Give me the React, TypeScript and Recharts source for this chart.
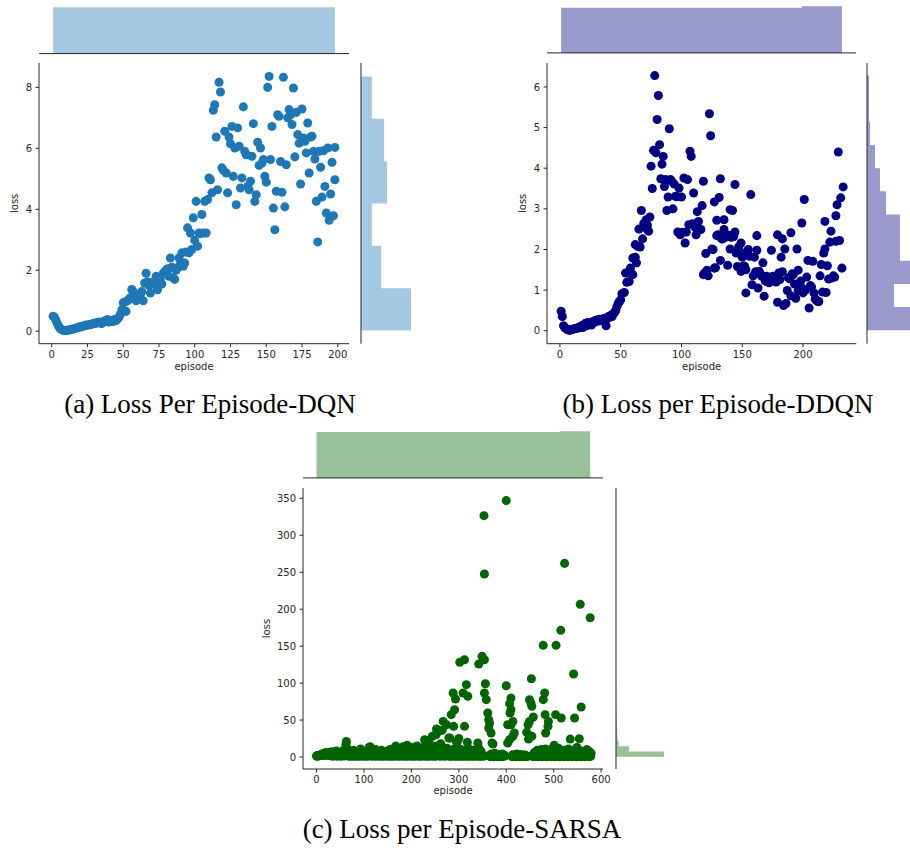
import React from 'react';
import { ScatterChart, Scatter, XAxis, YAxis, ZAxis, AreaChart, Area } from 'recharts';

type Pt = [number, number];

const INK = '#262626';
const TICK = { fontSize: 10, fill: INK, fontFamily: 'DejaVu Sans' };

// ---------- DQN ----------
const dqnEarly: Pt[] = [
  [1, 0.49], [2, 0.45], [3, 0.35], [4, 0.25], [5, 0.15], [6, 0.08], [7, 0.05], [8, 0.03], [9, 0.02], [10, 0.02],
  [11, 0.03], [12, 0.04], [13, 0.05], [14, 0.06], [15, 0.07], [16, 0.08], [17, 0.1], [18, 0.12], [19, 0.13], [20, 0.15],
  [21, 0.14], [22, 0.17], [23, 0.18], [24, 0.2], [25, 0.19], [26, 0.22], [27, 0.21], [28, 0.23], [29, 0.25], [30, 0.27],
  [31, 0.26], [32, 0.28], [33, 0.3], [34, 0.27], [35, 0.25], [36, 0.3], [37, 0.33], [38, 0.35], [39, 0.38], [40, 0.3],
  [41, 0.33], [42, 0.36], [43, 0.32], [44, 0.38], [45, 0.35], [46, 0.4], [47, 0.45], [48, 0.55], [49, 0.7], [50, 0.93],
];
const dqnRise: Pt[] = [
  [51, 0.95], [52, 0.65], [53, 1.0], [54, 1.05], [55, 1.1], [56, 1.37], [57, 1.3], [58, 1.25], [59, 1.0], [60, 1.15],
  [61, 1.1], [62, 1.2], [63, 1.3], [64, 1.0], [65, 1.58], [66, 1.9], [67, 1.62], [68, 1.5], [69, 1.25], [70, 1.6],
  [71, 1.55], [72, 1.62], [73, 1.8], [74, 1.36], [75, 1.64], [76, 1.72], [77, 1.55], [78, 1.9], [79, 1.95], [80, 2.0],
  [81, 2.05], [82, 1.8], [83, 2.4], [84, 2.1], [85, 1.75], [86, 1.7], [87, 2.0], [88, 2.08], [89, 2.4], [90, 2.2],
  [91, 2.57], [92, 2.13], [93, 2.24], [94, 2.6], [95, 3.39], [96, 2.57], [97, 3.22], [98, 2.68], [99, 3.72], [100, 2.98],
  [101, 4.26], [102, 2.79], [103, 3.22], [104, 3.2], [105, 3.83], [106, 3.22], [107, 4.26], [108, 3.22], [109, 4.32], [110, 5.03],
  [111, 4.97], [112, 4.54],
];
const dqnPlateau: Pt[] = [
  [113, 7.25], [114, 7.43], [115, 6.37], [116, 4.64], [117, 8.17], [118, 7.85], [119, 5.36], [120, 5.28], [121, 6.56], [122, 5.19],
  [123, 4.54], [124, 6.37], [125, 6.15], [126, 6.72], [127, 5.08], [128, 6.01], [129, 4.15], [130, 6.67], [131, 6.07], [132, 4.7],
  [133, 5.03], [134, 7.36], [135, 5.9], [136, 5.79], [137, 4.75], [138, 4.64], [139, 4.92], [140, 5.74], [141, 6.81], [142, 4.26],
  [143, 4.48], [144, 6.2], [145, 5.44], [146, 6.01], [147, 5.52], [148, 5.63], [149, 5.08], [150, 4.89], [151, 8.0], [152, 8.36],
  [153, 5.63], [154, 6.72], [155, 4.04], [156, 3.33], [157, 4.59], [158, 7.1], [159, 7.05], [160, 5.57], [161, 4.56], [162, 8.33],
  [163, 4.08], [164, 5.46], [165, 7.0], [166, 7.27], [167, 7.1], [168, 6.78], [169, 7.98], [170, 5.72], [171, 7.18], [172, 6.45],
  [173, 6.17], [174, 4.83], [175, 7.29], [176, 6.34], [177, 6.23], [178, 5.85], [179, 6.83], [180, 5.19], [181, 6.37], [182, 6.4],
  [183, 5.9], [184, 5.65], [185, 4.26], [186, 2.93], [187, 5.9], [188, 5.38], [189, 4.4], [190, 5.92], [191, 4.75], [192, 3.88],
  [193, 6.01], [194, 3.64], [195, 4.5], [196, 5.54], [197, 3.79], [198, 4.97], [198, 6.03],
];
const dqnTopEdges = [1, 33.8, 66.7, 99.5, 132.3, 165.2, 198];
const dqnTopCounts = [33, 33, 33, 33, 33, 33];
const dqnSideEdges = [0.02, 1.41, 2.8, 4.19, 5.58, 6.97, 8.36];
const dqnSideCounts = [72, 28, 15, 36, 32, 15];

// ---------- DDQN ----------
const ddqnEarly: Pt[] = [
  [1, 0.48], [2, 0.35], [3, 0.12], [4, 0.08], [5, 0.05], [6, 0.03], [7, 0.02], [8, 0.01], [9, 0.02], [10, 0.03],
  [11, 0.04], [12, 0.05], [13, 0.05], [14, 0.06], [15, 0.08], [16, 0.07], [17, 0.1], [18, 0.12], [19, 0.08], [20, 0.15],
  [21, 0.18], [22, 0.12], [23, 0.2], [24, 0.17], [25, 0.19], [26, 0.14], [27, 0.22], [28, 0.2], [29, 0.25], [30, 0.23],
  [31, 0.27], [32, 0.24], [33, 0.28], [34, 0.26], [35, 0.27], [36, 0.3], [37, 0.25], [38, 0.12], [39, 0.3], [40, 0.35],
  [41, 0.33], [42, 0.38], [43, 0.35], [44, 0.42], [45, 0.45], [46, 0.5], [47, 0.6], [48, 0.68], [49, 0.72], [50, 0.76],
];
const ddqnPeak: Pt[] = [
  [51, 0.91], [53, 0.94], [54, 1.42], [55, 1.19], [57, 1.21], [58, 1.54], [60, 1.79], [60, 1.38], [62, 2.12], [62, 1.81],
  [63, 1.67], [64, 2.08], [65, 2.5], [66, 2.06], [67, 2.96], [68, 2.26], [69, 2.64], [70, 2.55], [71, 2.73], [72, 2.49],
  [72, 2.6], [73, 2.45], [74, 2.8], [75, 4.05], [76, 3.5], [77, 4.44], [78, 6.28], [79, 4.38], [80, 5.2], [81, 5.79],
  [82, 4.58], [83, 3.74], [84, 4.1], [85, 4.29], [86, 3.55], [87, 3.72], [88, 2.96], [89, 3.29], [90, 4.97], [91, 3.72],
  [92, 3.68], [93, 3.0], [94, 3.61], [95, 3.31], [96, 3.3], [97, 2.43], [98, 3.51], [99, 2.36], [100, 3.29], [101, 2.42],
  [102, 3.76], [103, 2.16], [104, 2.43], [105, 3.72], [106, 2.61], [107, 4.42], [108, 4.29], [109, 2.63], [110, 3.39], [110, 2.61],
  [111, 2.55], [112, 2.36], [113, 2.93], [114, 2.69], [115, 2.5], [116, 2.49], [117, 3.08], [118, 3.68], [118, 1.38], [119, 1.42],
  [120, 1.9], [121, 1.49], [122, 1.35], [123, 5.34], [124, 4.8], [125, 2.01], [126, 2.0], [127, 3.17], [127, 1.54], [128, 1.55],
  [129, 2.34], [129, 2.72], [130, 2.36], [131, 3.28], [132, 3.74], [132, 1.73], [133, 2.26], [134, 2.26], [135, 2.73], [135, 2.49],
  [136, 2.3], [137, 2.32], [138, 1.61], [139, 2.35], [140, 2.98], [140, 2.01], [141, 2.3], [142, 2.96], [143, 2.32], [144, 3.6],
  [144, 2.43], [145, 1.91], [146, 1.58],
];
const ddqnTail: Pt[] = [
  [147, 2.06], [148, 1.96], [149, 2.16], [149, 1.46], [150, 1.81], [151, 1.6], [152, 1.58], [153, 0.93], [153, 1.5], [154, 1.88],
  [155, 2.0], [156, 1.83], [157, 3.35], [158, 1.13], [159, 1.35], [160, 1.81], [161, 1.45], [162, 2.34], [162, 1.98], [163, 1.05],
  [164, 1.46], [165, 1.4], [166, 1.34], [167, 1.67], [168, 0.85], [169, 1.22], [170, 1.34], [171, 1.3], [172, 1.18], [173, 1.26],
  [174, 1.98], [175, 1.34], [176, 1.22], [177, 1.32], [178, 1.2], [179, 2.36], [179, 0.7], [180, 1.42], [181, 1.26], [182, 1.81],
  [183, 2.26], [183, 1.45], [184, 0.62], [185, 2.01], [186, 0.67], [187, 0.99], [188, 1.3], [189, 1.28], [190, 2.41], [190, 0.86],
  [191, 1.4], [192, 1.38], [193, 1.15], [194, 0.8], [195, 2.01], [196, 1.49], [196, 0.99], [197, 1.0], [198, 1.22], [199, 2.65],
  [199, 1.05], [200, 0.93], [201, 3.23], [202, 1.0], [203, 1.32], [204, 1.73], [205, 0.56], [206, 1.11], [207, 1.08], [208, 1.71],
  [209, 0.93], [210, 0.78], [211, 0.75], [212, 0.72], [213, 0.72], [214, 1.35], [215, 1.63], [216, 0.95], [217, 1.91], [218, 2.69],
  [218, 2.01], [219, 0.94], [220, 1.6], [221, 1.27], [222, 2.18], [223, 2.45], [224, 1.3], [225, 1.35], [226, 1.32], [227, 2.2],
  [227, 2.83], [228, 3.1], [229, 4.4], [230, 2.22], [231, 3.27], [232, 1.54], [233, 3.54],
];
const ddqnTopEdges = [1, 34, 67, 100, 133, 166, 199, 232];
const ddqnTopCounts = [33, 33, 33, 33, 33, 33, 34];
const ddqnSideEdges = [0.01, 0.58, 1.15, 1.72, 2.29, 2.86, 3.43, 4.0, 4.57, 5.14, 5.71, 6.28];
const ddqnSideCounts = [48, 27, 44, 33, 33, 19, 13, 8, 3, 2, 2];

// ---------- SARSA ----------
const sarsaBandUpper: Pt[] = [
  [0, 1.5], [2, 2], [4, 1.8], [6, 2.5], [8, 3], [10, 3.2], [12, 4], [14, 3.5], [16, 5], [18, 4.2], [20, 6], [22, 4.8],
  [24, 5.5], [27, 6.5], [30, 4], [33, 7], [36, 5], [39, 3], [42, 8], [45, 5.5], [48, 2.5], [51, 6], [54, 4], [57, 9],
  [60, 3], [62, 17], [63, 21], [64, 12], [66, 5], [69, 7.5], [72, 2], [75, 6], [78, 9], [81, 4], [84, 6.5], [87, 2.5],
  [90, 8], [93, 11], [96, 5], [99, 3], [102, 7], [105, 4.5], [108, 9], [111, 13], [113, 14], [116, 6], [119, 3], [122, 8],
  [125, 10], [128, 5], [131, 2.5], [134, 7], [137, 9], [140, 4], [143, 6], [146, 2], [149, 8], [152, 5], [155, 10], [158, 3.5],
  [161, 7], [164, 12], [167, 15], [170, 6], [173, 9], [176, 3], [179, 11], [182, 14], [185, 5], [188, 8], [191, 16], [194, 4],
  [197, 10], [200, 7], [203, 13], [206, 3], [209, 9], [212, 15], [215, 6], [218, 11], [221, 4], [224, 8], [227, 14], [230, 5],
  [233, 10], [236, 20], [239, 7], [242, 12], [245, 3], [248, 9], [251, 15], [254, 33], [256, 6], [258, 11], [260, 4], [262, 18],
  [264, 8], [266, 13], [268, 3], [270, 10], [272, 6], [275, 12], [278, 4], [281, 9], [284, 7], [287, 2], [290, 11], [293, 5],
  [296, 20], [299, 8], [302, 3], [305, 10], [308, 6], [311, 2], [314, 9], [317, 5], [320, 12], [323, 3], [326, 7], [329, 4],
  [332, 9], [335, 2], [338, 6], [341, 14], [344, 4], [347, 8], [350, 3], [364, 2], [368, 4], [372, 2.5], [376, 5], [380, 2],
  [384, 3.5], [388, 1.5], [392, 4], [396, 2.5], [414, 3], [418, 1.5], [422, 4], [426, 2], [430, 3.5], [434, 1.5], [438, 3],
  [442, 2], [456, 2], [459, 6], [462, 4], [465, 9], [468, 6], [471, 3], [474, 10], [477, 2], [480, 5], [483, 11], [486, 3],
  [489, 7], [492, 2], [495, 10], [498, 4], [501, 16], [504, 6], [507, 3], [510, 12], [513, 5], [516, 8], [519, 2], [522, 9],
  [525, 4], [528, 7], [531, 11], [534, 3], [537, 6], [540, 2], [543, 9], [546, 4], [549, 13], [552, 5], [555, 3], [558, 8],
  [561, 2], [564, 6], [567, 4], [570, 10], [573, 3], [576, 7], [579, 5],
];
const sarsaBandLower: Pt[] = [
  [1, 1], [5, 1.5], [9, 2], [13, 2.5], [17, 2], [21, 3], [25, 2], [29, 2.5], [34, 1], [37, 3], [41, 2], [44, 1], [47, 3],
  [52, 1], [56, 2], [59, 1.5], [65, 2], [68, 1], [71, 3], [74, 1], [77, 2.5], [80, 1], [83, 2], [86, 1], [89, 1.5], [92, 2],
  [95, 1], [98, 2.5], [101, 1], [104, 2], [107, 1], [110, 1.5], [114, 2], [117, 1], [121, 2.5], [124, 1], [127, 1.5], [130, 2],
  [133, 1], [136, 2.5], [139, 1], [142, 1.5], [145, 2], [148, 1], [151, 2.5], [154, 1], [157, 2], [160, 1], [163, 1.5], [166, 2],
  [169, 1], [172, 2.5], [175, 1], [178, 1.5], [181, 2], [184, 1], [187, 2.5], [190, 1], [193, 1.5], [196, 2], [199, 1], [202, 2.5],
  [205, 1], [208, 1.5], [211, 2], [214, 1], [217, 2.5], [220, 1], [223, 1.5], [226, 2], [229, 1], [232, 2.5], [235, 1], [238, 1.5],
  [241, 2], [244, 1], [247, 2.5], [250, 1], [253, 1.5], [257, 2], [261, 1], [265, 2], [269, 1], [273, 1.5], [277, 2], [280, 1],
  [283, 1.5], [286, 1], [289, 2], [292, 1], [295, 1.5], [298, 1], [301, 2], [304, 1], [307, 1.5], [310, 1], [313, 2], [316, 1],
  [319, 1.5], [322, 1], [325, 2], [328, 1], [331, 1.5], [334, 1], [337, 2], [340, 1], [343, 1.5], [346, 1], [349, 2], [352, 1],
  [366, 0.5], [370, 1], [374, 0.5], [378, 1], [382, 0.5], [386, 1], [390, 0.5], [394, 1], [398, 1.5], [412, 0.5], [416, 1],
  [420, 0.5], [424, 1], [428, 0.5], [432, 1], [436, 0.5], [440, 1], [444, 0.5], [455, 1], [458, 0.5], [461, 1.5], [464, 1],
  [467, 0.5], [470, 1.5], [473, 1], [476, 0.5], [479, 1], [482, 1.5], [485, 0.5], [488, 1], [491, 1.5], [494, 0.5], [497, 1],
  [500, 1.5], [503, 0.5], [506, 1], [509, 1.5], [512, 0.5], [515, 1], [518, 1.5], [521, 0.5], [524, 1], [527, 1.5], [530, 0.5],
  [533, 1], [536, 1.5], [539, 0.5], [542, 1], [545, 1.5], [548, 0.5], [551, 1], [554, 1.5], [557, 0.5], [560, 1], [563, 1.5],
  [566, 0.5], [569, 1], [572, 1.5], [575, 0.5], [578, 1],
];
const sarsaSpikes: Pt[] = [
  [400, 346.9], [353, 326.6], [354, 247.6], [523, 262], [556, 206.6], [577, 188.5], [515, 171.4], [478, 151.1], [505, 151.1],
  [542, 112.3], [453, 106], [302, 128.1], [312, 131.7], [342, 125.8], [349, 136.2], [354, 131.7], [316, 97.9], [356, 99.2],
  [400, 96.5], [288, 86.6], [309, 86.6], [319, 82.1], [354, 86.6], [358, 77.6], [410, 79.8], [407, 72.2], [410, 64.1],
  [408, 59.5], [414, 48.2], [410, 43.7], [403, 43.7], [417, 32.5], [414, 28], [403, 19], [407, 23.4], [449, 77.6], [452, 73.1],
  [454, 68.6], [457, 54.1], [449, 48.2], [446, 43.7], [443, 33.4], [449, 28.9], [454, 28], [447, 24.3], [481, 86.6], [478, 77.6],
  [482, 57.3], [489, 48.2], [488, 41.5], [483, 32.5], [504, 57.3], [516, 52.8], [544, 52.8], [558, 67.6], [535, 24.3], [554, 24.7],
  [361, 59.5], [363, 50.5], [365, 46], [363, 39.2], [368, 32.5], [370, 19], [340, 19], [281, 25.7], [291, 64], [284, 57.3],
  [293, 78.5], [289, 41.5], [312, 41.5], [372, 17.6], [267, 48.2], [274, 43.7], [253, 37.9], [265, 36.1], [279, 25.7], [252, 30.2],
  [244, 28], [228, 23.4], [237, 22.5], [300, 25], [296, 20], [318, 20],
];
const sarsaTopEdges = [0, 64.1, 128.2, 192.3, 256.4, 320.6, 384.7, 448.8, 512.9, 577];
const sarsaTopCounts = [64, 64, 64, 64, 64, 64, 64, 64, 65];
const sarsaSideEdges = [0.3, 7.5, 14.7, 21.9, 29.1, 36.3, 43.5, 50.7, 57.9, 65.1, 72.3, 79.5, 86.7, 93.9, 101.1];
const sarsaSideCounts = [380, 103, 21, 12, 9, 8, 6, 5, 4, 3, 3, 3, 2, 2];

// step-area rows for a histogram: one row per left edge, plus the closing edge
function histRows(edges: number[], counts: number[]) {
  const rows = counts.map((count, i) => ({ edge: edges[i], count }));
  rows.push({ edge: edges[edges.length - 1], count: counts[counts.length - 1] });
  return rows;
}

interface Box { left: number; top: number; width: number; height: number }

interface PanelProps {
  points: Pt[];
  color: string;
  histColor: string;
  xDomain: [number, number];
  yDomain: [number, number];
  xTicks: number[];
  yTicks: number[];
  plot: Box;
  clip: Box;
  topEdges: number[];
  topCounts: number[];
  sideEdges: number[];
  sideCounts: number[];
  topGap: number;
  topHeight: number;
  sideGap: number;
  sideWidth: number;
  yTitleOffset: number;
  xTitleOffset: number;
}

const Y_AXIS_W = 44;
const X_AXIS_H = 32;
const PAD = 6;
const PAD_RIGHT = 16;

function JointPlot(p: PanelProps) {
  const data = p.points.map(([episode, loss]) => ({ episode, loss }));
  const top = histRows(p.topEdges, p.topCounts);
  const side = histRows(p.sideEdges, p.sideCounts);
  const topMax = Math.max(...p.topCounts) * 1.05;
  const sideMax = Math.max(...p.sideCounts) * 1.05;
  const { plot, clip } = p;

  const xTitle = (props: any) => {
    const vb = props.viewBox;
    return (
      <text x={vb.x + vb.width / 2} y={vb.y + p.xTitleOffset} textAnchor="middle"
        fontSize={10} fill={INK} fontFamily="DejaVu Sans">episode</text>
    );
  };
  const yTitle = (props: any) => {
    const vb = props.viewBox;
    const x = vb.x + vb.width - p.yTitleOffset;
    const y = vb.y + vb.height / 2;
    return (
      <text x={x} y={y} transform={`rotate(-90, ${x}, ${y})`} textAnchor="middle"
        fontSize={10} fill={INK} fontFamily="DejaVu Sans">loss</text>
    );
  };

  return (
    <div style={{ position: 'absolute', left: clip.left, top: clip.top, width: clip.width, height: clip.height, overflow: 'hidden' }}>
      {/* main scatter */}
      <div style={{ position: 'absolute', left: plot.left - Y_AXIS_W - clip.left, top: plot.top - PAD - clip.top }}>
        <ScatterChart width={Y_AXIS_W + plot.width + PAD_RIGHT} height={PAD + plot.height + X_AXIS_H}
          margin={{ top: PAD, right: PAD_RIGHT, bottom: 0, left: 0 }}>
          <XAxis type="number" dataKey="episode" domain={p.xDomain} ticks={p.xTicks} interval={0}
            height={X_AXIS_H} tickSize={3.5} tickMargin={3.5} tick={TICK}
            axisLine={{ stroke: INK }} tickLine={{ stroke: INK }} label={xTitle} />
          <YAxis type="number" dataKey="loss" domain={p.yDomain} ticks={p.yTicks} interval={0}
            width={Y_AXIS_W} tickSize={3.5} tickMargin={3.5} tick={TICK}
            axisLine={{ stroke: INK }} tickLine={{ stroke: INK }} label={yTitle} />
          <ZAxis range={[31, 31]} />
          <Scatter data={data} fill={p.color} isAnimationActive={false} />
        </ScatterChart>
      </div>

      {/* top marginal */}
      <div style={{ position: 'absolute', left: plot.left - clip.left, top: plot.top - p.topGap - p.topHeight - clip.top }}>
        <AreaChart width={plot.width} height={p.topHeight + 5} data={top}
          margin={{ top: 0, right: 0, bottom: 0, left: 0 }}>
          <XAxis type="number" dataKey="edge" domain={p.xDomain} ticks={p.xTicks} interval={0}
            height={5} tickSize={3.5} tick={false} axisLine={{ stroke: INK }} tickLine={{ stroke: INK }} />
          <YAxis type="number" domain={[0, topMax]} hide />
          <Area type="stepAfter" dataKey="count" stroke="none" fill={p.histColor} fillOpacity={1}
            isAnimationActive={false} />
        </AreaChart>
      </div>

      {/* side marginal */}
      <div style={{ position: 'absolute', left: plot.left + plot.width + p.sideGap - 5 - clip.left, top: plot.top - clip.top }}>
        <AreaChart layout="vertical" width={5 + p.sideWidth} height={plot.height} data={side}
          margin={{ top: 0, right: 0, bottom: 0, left: 0 }}>
          <YAxis type="number" dataKey="edge" domain={p.yDomain} ticks={p.yTicks} interval={0} reversed
            width={5} tickSize={3.5} tick={false} axisLine={{ stroke: INK }} tickLine={{ stroke: INK }} />
          <XAxis type="number" domain={[0, sideMax]} hide />
          <Area type="stepBefore" dataKey="count" stroke="none" fill={p.histColor} fillOpacity={1}
            isAnimationActive={false} />
        </AreaChart>
      </div>
    </div>
  );
}

const captions = [
  { x: 210, y: 413, text: '(a) Loss Per Episode-DQN' },
  { x: 718, y: 413, text: '(b) Loss per Episode-DDQN' },
  { x: 462, y: 838, text: '(c) Loss per Episode-SARSA' },
];

export default function App() {
  return (
    <div style={{ position: 'absolute', left: 0, top: 0, width: 910, height: 852, background: '#fff', overflow: 'hidden' }}>
      <JointPlot
        points={[...dqnEarly, ...dqnRise, ...dqnPlateau]}
        color="#1f77b4" histColor="#a5c8e1"
        xDomain={[-8.85, 207.85]} yDomain={[-0.41, 8.8]}
        xTicks={[0, 25, 50, 75, 100, 125, 150, 175, 200]} yTicks={[0, 2, 4, 6, 8]}
        plot={{ left: 39.3, top: 63.3, width: 310, height: 280.7 }}
        clip={{ left: 0, top: 0, width: 411, height: 385 }}
        topEdges={dqnTopEdges} topCounts={dqnTopCounts}
        sideEdges={dqnSideEdges} sideCounts={dqnSideCounts}
        topGap={10} topHeight={48.6} sideGap={11.7} sideWidth={54.6}
        yTitleOffset={21.5} xTitleOffset={26}
      />
      <JointPlot
        points={[...ddqnEarly, ...ddqnPeak, ...ddqnTail]}
        color="#000080" histColor="#9999cc"
        xDomain={[-10.6, 243.8]} yDomain={[-0.32, 6.59]}
        xTicks={[0, 50, 100, 150, 200]} yTicks={[0, 1, 2, 3, 4, 5, 6]}
        plot={{ left: 546.7, top: 63.3, width: 309.3, height: 280.7 }}
        clip={{ left: 455, top: 0, width: 455, height: 385 }}
        topEdges={ddqnTopEdges} topCounts={ddqnTopCounts}
        sideEdges={ddqnSideEdges} sideCounts={ddqnSideCounts}
        topGap={10} topHeight={48.9} sideGap={11.3} sideWidth={50.4}
        yTitleOffset={21.5} xTitleOffset={26}
      />
      <JointPlot
        points={[...sarsaBandUpper, ...sarsaBandLower, ...sarsaSpikes]}
        color="#006400" histColor="#99c199"
        xDomain={[-28.5, 604]} yDomain={[-16.2, 364]}
        xTicks={[0, 100, 200, 300, 400, 500, 600]} yTicks={[0, 50, 100, 150, 200, 250, 300, 350]}
        plot={{ left: 303.3, top: 488.3, width: 300, height: 281 }}
        clip={{ left: 240, top: 425, width: 440, height: 375 }}
        topEdges={sarsaTopEdges} topCounts={sarsaTopCounts}
        sideEdges={sarsaSideEdges} sideCounts={sarsaSideCounts}
        topGap={10} topHeight={48.9} sideGap={12.4} sideWidth={50.4}
        yTitleOffset={32.6} xTitleOffset={25}
      />
      <svg width={910} height={852} style={{ position: 'absolute', left: 0, top: 0, pointerEvents: 'none' }}>
        {captions.map((c) => (
          <text key={c.text} x={c.x} y={c.y} textAnchor="middle" fontSize={27}
            fontFamily="Liberation Serif" fill="#000">{c.text}</text>
        ))}
      </svg>
    </div>
  );
}
